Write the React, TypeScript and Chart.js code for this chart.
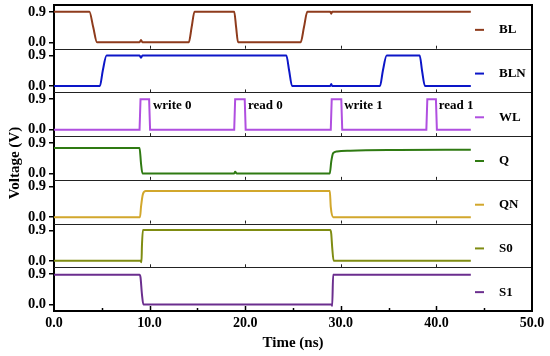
import React, { useEffect, useRef } from "react";
import { Chart, registerables } from "chart.js";

Chart.register(...registerables);

// ---------- data ----------
const seriesNames = ["BL", "BLN", "WL", "Q", "QN", "S0", "S1"];
const seriesColors = ["#8E3B1C", "#0C16C8", "#B04FE0", "#2F7A12", "#D2A72C", "#7F8C12", "#6B2E8E"];

const tBL = [0, 3.7, 4.1, 4.5, 8.95, 9.1, 9.25, 14.1, 14.4, 14.7, 18.85, 19.05, 19.25, 25.8, 26.15, 26.5, 28.9, 29.0, 29.1, 43.6];
const vBL = [0.9, 0.9, 0.45, 0, 0, 0.07, 0, 0, 0.45, 0.9, 0.9, 0.45, 0, 0, 0.45, 0.9, 0.9, 0.84, 0.9, 0.9];

const tBLN = [0, 4.8, 5.1, 5.5, 8.95, 9.1, 9.25, 24.3, 24.6, 24.9, 28.9, 29.0, 29.1, 34.1, 34.4, 34.8, 38.25, 38.5, 38.8, 43.6];
const vBLN = [0, 0, 0.45, 0.9, 0.9, 0.83, 0.9, 0.9, 0.45, 0, 0, 0.06, 0, 0, 0.45, 0.9, 0.9, 0.45, 0, 0];

const tWL = [0, 8.95, 9.05, 9.95, 10.05, 18.85, 18.95, 19.95, 20.05, 28.95, 29.05, 30.05, 30.15, 38.95, 39.05, 39.95, 40.05, 43.6];
const vWL = [0, 0, 0.9, 0.9, 0, 0, 0.9, 0.9, 0, 0, 0.9, 0.9, 0, 0, 0.9, 0.9, 0, 0];

const tQ = [0, 8.95, 9.1, 9.25, 18.85, 18.95, 19.1, 28.85, 29.0, 29.2, 29.6, 31, 36, 43.6];
const vQ = [0.75, 0.75, 0.3, 0, 0, 0.05, 0, 0, 0.35, 0.6, 0.65, 0.67, 0.69, 0.7];

const tQN = [0, 9.0, 9.1, 9.3, 9.6, 28.85, 28.95, 29.2, 43.6];
const vQN = [0, 0, 0.3, 0.68, 0.77, 0.77, 0.3, 0, 0];

const tS0 = [0, 9.05, 9.15, 9.2, 9.3, 28.9, 29.0, 29.1, 29.25, 43.6];
const vS0 = [0, 0, -0.04, 0.45, 0.91, 0.91, 0.8, 0.4, 0, 0];

const tS1 = [0, 8.95, 9.05, 9.2, 9.35, 29.05, 29.1, 29.2, 43.6];
const vS1 = [0.88, 0.88, 0.8, 0.3, 0, 0, -0.04, 0.88, 0.88];

const seriesTimes = [tBL, tBLN, tWL, tQ, tQN, tS0, tS1];
const seriesValues = [vBL, vBLN, vWL, vQ, vQN, vS0, vS1];

const wlLabels = ["write 0", "read 0", "write 1", "read 1"];
const wlLabelTimes = [10.35, 20.3, 30.35, 40.25];
const wlLabelLevel = 0.72;

const xTicks = [0, 10, 20, 30, 40, 50];
const xMinorTicks = [5, 15, 25, 35, 45];
const yTickValues = [0, 0.9];

const FONT = "'Liberation Serif', 'Times New Roman', serif";

export default function App() {
  const ref = useRef<HTMLCanvasElement | null>(null);

  useEffect(() => {
    document.body.style.margin = "0";
    const canvas = ref.current;
    if (!canvas) return;

    const scales: any = {
      x: {
        type: "linear",
        min: 0,
        max: 50,
        afterBuildTicks: (sc: any) => {
          sc.ticks = xTicks.map((v) => ({ value: v }));
        },
        ticks: {
          autoSkip: false,
          maxRotation: 0,
          padding: 4,
          color: "#000",
          font: { family: FONT, weight: "bold", size: 14 },
          callback: (v: any) => Number(v).toFixed(1),
        },
        grid: { display: false, drawTicks: false },
        border: { display: true, color: "#000", width: 2 },
        afterFit: (sc: any) => {
          sc.height = 45;
          sc.paddingLeft = 0;
          sc.paddingRight = 0;
        },
      },
    };

    // left stacked axes are laid out from the last-defined one at the top,
    // so define them bottom panel first
    for (let i = seriesNames.length - 1; i >= 0; i--) {
      scales["y" + i] = {
        type: "linear",
        position: "left",
        stack: "panels",
        stackWeight: 1,
        offset: false,
        min: -0.19,
        max: 1.1,
        afterBuildTicks: (sc: any) => {
          sc.ticks = yTickValues.map((v) => ({ value: v }));
        },
        ticks: {
          autoSkip: false,
          padding: 3,
          color: "#000",
          font: { family: FONT, weight: "bold", size: 14.5 },
          callback: (v: any) => Number(v).toFixed(1),
        },
        grid: {
          display: true,
          drawOnChartArea: false,
          drawTicks: true,
          tickLength: 5,
          color: "#000",
          lineWidth: 1.5,
        },
        border: { display: true, color: "#000", width: 2 },
        afterFit: (sc: any) => {
          sc.width = 54;
          sc.paddingTop = 0;
          sc.paddingBottom = 0;
        },
      };
    }

    const datasets = seriesNames.map((name, i) => ({
      label: name,
      data: seriesTimes[i].map((t, k) => ({ x: t, y: seriesValues[i][k] })),
      yAxisID: "y" + i,
      borderColor: seriesColors[i],
      backgroundColor: seriesColors[i],
      borderWidth: 2,
      pointRadius: 0,
      fill: false,
      cubicInterpolationMode: name === "WL" ? "default" : "monotone",
      tension: 0,
    }));

    const decor = {
      id: "decor",
      afterDraw(chart: any) {
        const ctx = chart.ctx;
        const ca = chart.chartArea;
        const xs = chart.scales.x;
        ctx.save();
        // panel separators + inner ticks
        ctx.strokeStyle = "#222";
        ctx.lineWidth = 1;
        seriesNames.forEach((_, i) => {
          const sc = chart.scales["y" + i];
          if (Math.abs(sc.bottom - ca.bottom) > 1) {
            ctx.beginPath();
            ctx.moveTo(ca.left, Math.round(sc.bottom) + 0.5);
            ctx.lineTo(ca.right, Math.round(sc.bottom) + 0.5);
            ctx.stroke();
            xTicks.slice(1, -1).forEach((v) => {
              const px = Math.round(xs.getPixelForValue(v)) + 0.5;
              ctx.beginPath();
              ctx.moveTo(px, sc.bottom);
              ctx.lineTo(px, sc.bottom - 3);
              ctx.stroke();
            });
          }
        });
        // bottom axis inner ticks
        ctx.strokeStyle = "#000";
        ctx.lineWidth = 1.5;
        xTicks.slice(1, -1).forEach((v) => {
          const px = Math.round(xs.getPixelForValue(v)) + 0.5;
          ctx.beginPath();
          ctx.moveTo(px, ca.bottom);
          ctx.lineTo(px, ca.bottom - 5);
          ctx.stroke();
        });
        xMinorTicks.forEach((v) => {
          const px = Math.round(xs.getPixelForValue(v)) + 0.5;
          ctx.beginPath();
          ctx.moveTo(px, ca.bottom);
          ctx.lineTo(px, ca.bottom - 3);
          ctx.stroke();
        });
        // frame top/right
        ctx.lineWidth = 2;
        ctx.strokeStyle = "#000";
        ctx.beginPath();
        ctx.moveTo(ca.left - 1, ca.top);
        ctx.lineTo(ca.right, ca.top);
        ctx.lineTo(ca.right, ca.bottom + 1);
        ctx.stroke();

        // legends
        ctx.textBaseline = "middle";
        ctx.textAlign = "left";
        ctx.font = "bold 13px " + FONT;
        seriesNames.forEach((name, i) => {
          const sc = chart.scales["y" + i];
          const cy = (sc.top + sc.bottom) / 2 + 3;
          ctx.strokeStyle = seriesColors[i];
          ctx.lineWidth = 2;
          ctx.beginPath();
          ctx.moveTo(ca.right - 57, cy);
          ctx.lineTo(ca.right - 48, cy);
          ctx.stroke();
          ctx.fillStyle = "#000";
          ctx.fillText(name, ca.right - 33, cy);
        });

        // WL annotations
        const wlScale = chart.scales["y2"];
        ctx.font = "bold 13px " + FONT;
        wlLabels.forEach((lab, k) => {
          ctx.fillText(lab, xs.getPixelForValue(wlLabelTimes[k]), wlScale.getPixelForValue(wlLabelLevel));
        });

        // axis titles
        ctx.font = "bold 15px " + FONT;
        ctx.textAlign = "center";
        ctx.fillText("Time (ns)", (ca.left + ca.right) / 2, ca.bottom + 32);
        ctx.translate(15, (ca.top + ca.bottom) / 2 + 5);
        ctx.rotate(-Math.PI / 2);
        ctx.fillText("Voltage (V)", 0, 0);
        ctx.restore();
      },
    };

    const chart = new Chart(canvas, {
      type: "line",
      data: { datasets } as any,
      options: {
        responsive: false,
        animation: false,
        layout: { padding: { top: 5, right: 18, bottom: 0, left: 0 } },
        plugins: { legend: { display: false }, tooltip: { enabled: false }, title: { display: false } },
        scales,
      } as any,
      plugins: [decor],
    });

    return () => chart.destroy();
  }, []);

  return (
    <div style={{ width: 550, height: 356 }}>
      <canvas ref={ref} width={550} height={356} style={{ width: 550, height: 356, display: "block" }} />
    </div>
  );
}
